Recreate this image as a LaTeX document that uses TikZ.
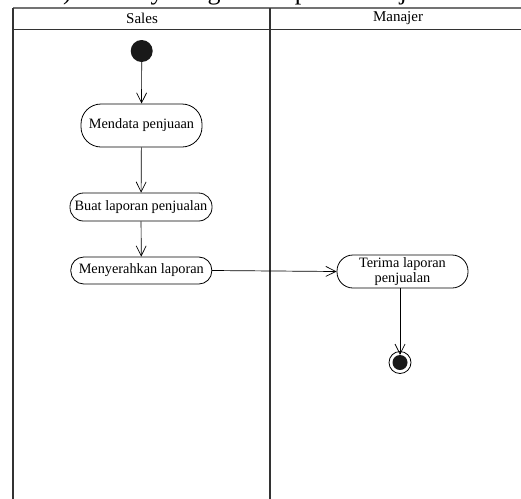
\documentclass[tikz,border=0pt]{standalone}
\usepackage{fontspec}
\setmainfont{Liberation Serif}
\usetikzlibrary{arrows.meta}
\begin{document}
\begin{tikzpicture}[x=1pt,y=-1pt,
  act/.style={draw,line width=0.8pt,inner sep=0pt,font=\fontsize{14.3}{15}\selectfont,align=center},
  flow/.style={draw,line width=0.7pt,-{Straight Barb[length=10pt,width=10pt]}},
  lane/.style={line width=1.2pt,draw=black!80}]
\useasboundingbox (0,0) rectangle (521,498);
\begin{scope}
\clip (0,0) rectangle (521,498);
\node[anchor=base west,inner sep=0pt,font=\fontsize{26}{28}\selectfont] (cap) at (50,-1) {3) Activity Diagram Laporan Penjualan};
\draw[lane,draw=black!55] (13,8) -- (522,8);
\draw[lane] (13,29.5) -- (522,29.5);
\draw[lane] (13,8) -- (13,499);
\draw[lane] (270,8) -- (270,499);
\end{scope}
\node[font=\fontsize{15}{16}\selectfont] (sales) at (142,18.5) {Sales};
\node[font=\fontsize{15}{16}\selectfont] (man) at (398,18.5) {Manajer};
\node[circle,fill=black!90,minimum size=22pt,inner sep=0pt] (start) at (141.7,51) {};
\node[act,rounded corners=20pt,minimum width=121pt,minimum height=43pt] (a1) at (141.5,125.5) {Mendata penjuaan};
\node[act,rounded corners=13.5pt,minimum width=142pt,minimum height=28pt] (a2) at (141,207) {Buat laporan penjualan};
\node[act,rounded corners=13pt,minimum width=141pt,minimum height=27pt] (a3) at (141.3,270.5) {Menyerahkan laporan};
\node[act,rounded corners=16pt,minimum width=131pt,minimum height=33pt] (a4) at (402.5,271.5) {Terima laporan\\penjualan};
\node[circle,draw,line width=0.8pt,minimum size=22pt,inner sep=0pt] (end) at (400,362.5) {};
\node[circle,fill=black!90,minimum size=15pt,inner sep=0pt] (endin) at (end.center) {};
\draw[flow] (start) -- (a1);
\draw[flow] (a1) -- (a2);
\draw[flow] (a2) -- (a3);
\draw[flow] (a3.east) -- (a4.west);
\draw[flow] (a4.south -| end) -- (endin.north);
\end{tikzpicture}
\end{document}
